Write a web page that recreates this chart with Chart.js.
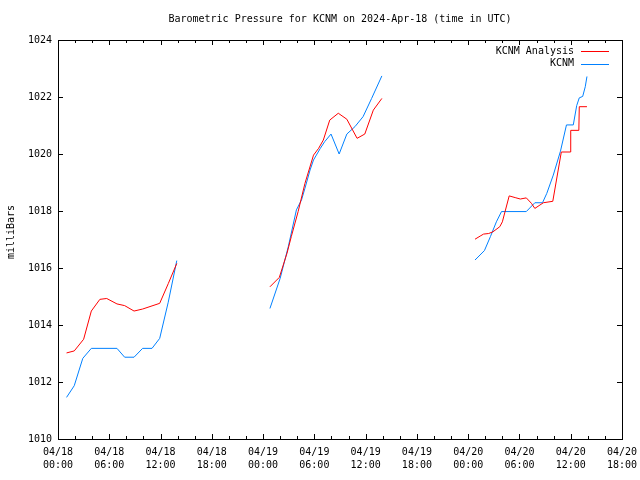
<!DOCTYPE html>
<html>
<head>
<meta charset="utf-8">
<script src="https://cdn.jsdelivr.net/npm/chart.js@4.4.0/dist/chart.umd.min.js"></script>
<style>
  html, body { margin: 0; padding: 0; background: #fff; }
  #wrap { width: 640px; height: 480px; }
</style>
</head>
<body>
<div id="wrap"><canvas id="presion" width="640" height="480"></canvas></div>
<script>
// horas desde 2024-04-18 00:00 UTC, null = hueco entre tramos
const analisisHoras = [1, 1.9, 3, 3.9, 4.9, 5.7, 6.9, 7.8, 8.9, 9.9, 11, 11.9, 12.9, 13.9, 19,
  24.8, 25.9, 26.8, 27.3, 28.1, 28.9, 29.9, 30.5, 31.05, 31.8, 32.8, 33.8, 35, 35.9, 36.9, 37.9, 43,
  48.8, 49.4, 49.8, 50.4, 50.9, 51.7, 52, 52.8, 53.5, 54.1, 54.8, 55.4, 55.8, 56.4, 56.8, 57.9, 58.9, 59.95, 60, 60.95, 61, 61.9];
const analisisMb = [1013.02, 1013.09, 1013.5, 1014.49, 1014.9, 1014.93, 1014.74, 1014.68, 1014.49, 1014.56, 1014.67, 1014.76, 1015.45, 1016.16, null,
  1015.34, 1015.67, 1016.52, 1017.1, 1017.98, 1018.97, 1019.96, 1020.2, 1020.49, 1021.19, 1021.43, 1021.22, 1020.55, 1020.7, 1021.54, 1021.95, null,
  1017.01, 1017.12, 1017.19, 1017.21, 1017.27, 1017.45, 1017.62, 1018.53, 1018.47, 1018.42, 1018.46, 1018.27, 1018.09, 1018.21, 1018.29, 1018.34, 1020.07, 1020.07, 1020.83, 1020.83, 1021.66, 1021.66];

const obsHoras = [1, 1.9, 2.9, 3.9, 6.9, 7.8, 8.9, 9.9, 11, 11.9, 12.9, 13.9, 19,
  24.8, 26, 26.95, 27.9, 28.5, 28.9, 29.5, 29.9, 30.7, 31.2, 31.95, 32.9, 33.8, 34.75, 35.7, 36.7, 37.9, 43,
  48.8, 49.9, 50.6, 51.3, 51.9, 54.8, 55.8, 56.7, 57.2, 57.96, 58.8, 59.5, 60.3, 60.7, 61, 61.4, 61.7, 61.9];
const obsMb = [1011.46, 1011.87, 1012.83, 1013.18, 1013.18, 1012.87, 1012.87, 1013.18, 1013.18, 1013.53, 1014.8, 1016.26, null,
  1014.58, 1015.64, 1016.75, 1018.04, 1018.39, 1018.8, 1019.44, 1019.79, 1020.2, 1020.43, 1020.7, 1020.0, 1020.7, 1020.96, 1021.31, 1021.95, 1022.74, null,
  1016.28, 1016.61, 1017.1, 1017.62, 1017.98, 1017.98, 1018.29, 1018.29, 1018.62, 1019.26, 1020.1, 1021.02, 1021.02, 1021.7, 1021.97, 1022.02, 1022.36, 1022.72];

const dias = ["04/18", "04/19", "04/20"];
const horasEje = { min: 0, max: 66, paso: 6, menor: 2 };
const mbEje = { min: 1010, max: 1024, paso: 2 };

const titulo = "Barometric Pressure for KCNM on 2024-Apr-18 (time in UTC)";
const fuente = "'DejaVu Sans Mono', 'Liberation Mono', monospace";

const aPuntos = (xs, ys) => xs.map((h, i) => ({ x: h, y: ys[i] }));

// titulo, marco, marcas hacia dentro, leyenda y rotulo del eje y
const adornos = {
  id: "adornos",
  afterDraw(chart) {
    const ctx = chart.ctx;
    const a = chart.chartArea;
    const sx = chart.scales.x, sy = chart.scales.y;
    ctx.save();
    ctx.strokeStyle = "#000";
    ctx.lineWidth = 1;
    ctx.strokeRect(Math.round(a.left) + 0.5, Math.round(a.top) + 0.5,
      Math.round(a.right - a.left), Math.round(a.bottom - a.top));

    ctx.beginPath();
    for (let h = horasEje.min; h <= horasEje.max; h += horasEje.menor) {
      const px = Math.round(sx.getPixelForValue(h)) + 0.5;
      const largo = h % horasEje.paso === 0 ? 5 : 3;
      ctx.moveTo(px, a.bottom);
      ctx.lineTo(px, a.bottom - largo);
      ctx.moveTo(px, a.top);
      ctx.lineTo(px, a.top + largo);
    }
    for (let v = mbEje.min; v <= mbEje.max; v += mbEje.paso) {
      const py = Math.round(sy.getPixelForValue(v)) + 0.5;
      ctx.moveTo(a.left, py);
      ctx.lineTo(a.left + 5, py);
      ctx.moveTo(a.right, py);
      ctx.lineTo(a.right - 5, py);
    }
    ctx.stroke();

    ctx.font = "10px " + fuente;
    ctx.fillStyle = "#000";
    ctx.textBaseline = "middle";

    // titulo centrado sobre el area de datos
    ctx.textAlign = "center";
    ctx.fillText(titulo, (a.left + a.right) / 2, 19);

    // leyenda
    ctx.textAlign = "right";
    chart.data.datasets.forEach((ds, i) => {
      const y = 51 + i * 12.5;
      ctx.fillText(ds.label, 574, y);
      ctx.strokeStyle = ds.borderColor;
      ctx.beginPath();
      ctx.moveTo(581, Math.round(y) + 0.5);
      ctx.lineTo(609, Math.round(y) + 0.5);
      ctx.stroke();
    });

    // rotulo eje y
    ctx.translate(11, 232);
    ctx.rotate(-Math.PI / 2);
    ctx.textAlign = "center";
    ctx.fillText("milliBars", 0, 0);
    ctx.restore();
  }
};

new Chart(document.getElementById("presion"), {
  type: "line",
  data: {
    datasets: [
      {
        label: "KCNM Analysis",
        data: aPuntos(analisisHoras, analisisMb),
        borderColor: "#ff0000",
        borderWidth: 1,
        pointRadius: 0,
        tension: 0,
        spanGaps: false,
      },
      {
        label: "KCNM",
        data: aPuntos(obsHoras, obsMb),
        borderColor: "#0080ff",
        borderWidth: 1,
        pointRadius: 0,
        tension: 0,
        spanGaps: false,
      },
    ],
  },
  options: {
    responsive: false,
    animation: false,
    devicePixelRatio: 1,
    layout: { padding: { left: 0, right: 18, top: 40, bottom: 0 } },
    plugins: {
      legend: { display: false },
      tooltip: { enabled: false },
      title: { display: false },
    },
    scales: {
      x: {
        type: "linear",
        min: horasEje.min,
        max: horasEje.max,
        grid: { display: false, drawTicks: false },
        border: { display: false },
        afterFit: (s) => { s.height = 41; s.paddingLeft = 0; s.paddingRight = 0; },
        ticks: {
          stepSize: horasEje.paso,
          autoSkip: false,
          maxRotation: 0,
          padding: 7,
          color: "#000",
          font: { family: fuente, size: 10, lineHeight: 1.3 },
          callback: (v) => {
            const dia = dias[Math.floor(v / 24)] || "04/21";
            const hh = String(v % 24).padStart(2, "0");
            return [dia, hh + ":00"];
          },
        },
      },
      y: {
        min: mbEje.min,
        max: mbEje.max,
        grid: { display: false, drawTicks: false },
        border: { display: false },
        afterFit: (s) => { s.width = 58; s.paddingTop = 0; s.paddingBottom = 0; },
        ticks: {
          stepSize: mbEje.paso,
          padding: 6,
          color: "#000",
          font: { family: fuente, size: 10 },
          callback: (v) => String(v),
        },
      },
    },
  },
  plugins: [adornos],
});
</script>
</body>
</html>
